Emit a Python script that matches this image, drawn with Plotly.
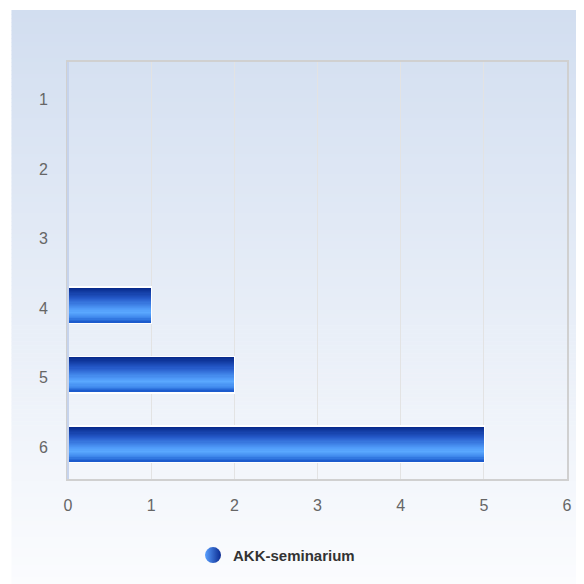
import plotly.graph_objects as go

categories = [1, 2, 3, 4, 5, 6]
values = [0, 0, 0, 1, 2, 5]
series_name = "AKK-seminarium"
x_ticks = [0, 1, 2, 3, 4, 5, 6]

# page has an 8px body margin; figure coords = screen coords - 8
OFF = 8
W, H = 576, 576
L, R, T, B = 68 - OFF, 571 - OFF, 62 - OFF, 480 - OFF

def hex2rgb(h):
    h = h.lstrip('#')
    return [int(h[i:i + 2], 16) for i in (0, 2, 4)]

def interp(stops, t):
    for i in range(len(stops) - 1):
        t0, c0 = stops[i]
        t1, c1 = stops[i + 1]
        if t0 <= t <= t1:
            f = (t - t0) / (t1 - t0) if t1 > t0 else 0
            a, b = hex2rgb(c0), hex2rgb(c1)
            return 'rgb(%d,%d,%d)' % tuple(round(a[k] + (b[k] - a[k]) * f) for k in range(3))
    return stops[-1][1]

fig = go.Figure()

bar_w = 0.49
fig.add_trace(go.Bar(y=categories, x=values, orientation='h', width=bar_w + 0.03,
                     marker=dict(color='white', line=dict(color='white', width=2)),
                     showlegend=False, hoverinfo='skip'))

bar_stops = [(0.0, '#062888'), (0.3, '#2458c8'), (0.62, '#4f9af8'), (0.72, '#5aa8ff'),
             (0.88, '#3f88ec'), (1.0, '#1654c8')]
N = 30
sw = bar_w / N
for i in range(N):
    t = (i + 0.5) / N
    off = -bar_w / 2 + i * sw
    fig.add_trace(go.Bar(y=categories, x=values, orientation='h', width=sw * 1.15, offset=off,
                         marker=dict(color=interp(bar_stops, t), line=dict(width=0)),
                         showlegend=False, hoverinfo='skip'))

fig.add_trace(go.Scatter(x=[None], y=[None], mode='markers', name=series_name,
                         marker=dict(symbol='circle', size=21, color='#5aa0ff',
                                     gradient=dict(type='horizontal', color='#0a2a90'),
                                     line=dict(width=0))))

def px2x(px):
    return (px - OFF - L) / (R - L)

def py2y(py):
    return (B - (py - OFF)) / (B - T)

shapes = []
top_c, bot_c = '#d2def0', '#fbfcfe'
step = 4
py = 10
while py < 600:
    t = min(1, (py - 10) / (584 - 10))
    col = interp([(0, top_c), (1, bot_c)], t)
    shapes.append(dict(type='rect', xref='paper', yref='paper', layer='below',
                       x0=px2x(11), x1=px2x(600), y0=py2y(py + step + 0.5), y1=py2y(py),
                       fillcolor=col, line=dict(width=0)))
    py += step
shapes.append(dict(type='line', xref='paper', yref='paper', x0=0, x1=0, y0=0, y1=1,
                   line=dict(color='#c6d3ec', width=2), layer='above'))

fig.update_layout(
    width=W, height=H,
    margin=dict(l=L, r=W - R, t=T, b=H - B),
    paper_bgcolor='white', plot_bgcolor='rgba(0,0,0,0)',
    barmode='overlay', bargap=0,
    shapes=shapes,
    font=dict(family='Arial, Liberation Sans, sans-serif', size=16, color='#666666'),
    showlegend=True,
    legend=dict(orientation='h', x=px2x(194), y=py2y(540), xanchor='left', yanchor='top',
                bgcolor='rgba(0,0,0,0)',
                font=dict(family='Arial, Liberation Sans, sans-serif', size=15, color='#333333',
                          weight='bold')),
    xaxis=dict(range=[0, 6], tickvals=x_ticks, showgrid=True, gridcolor='#e3e3e3', gridwidth=1,
               zeroline=False, showline=True, mirror=True, linecolor='#d0d0d0', linewidth=2,
               ticks='outside', ticklen=11, tickcolor='rgba(0,0,0,0)', fixedrange=True),
    yaxis=dict(range=[6.5, 0.5], tickvals=categories, showgrid=False, zeroline=False,
               showline=True, mirror=True, linecolor='#d0d0d0', linewidth=2,
               ticks='outside', ticklen=15, tickcolor='rgba(0,0,0,0)', ticklabelshift=-3),
)

fig.write_html("out.html")
